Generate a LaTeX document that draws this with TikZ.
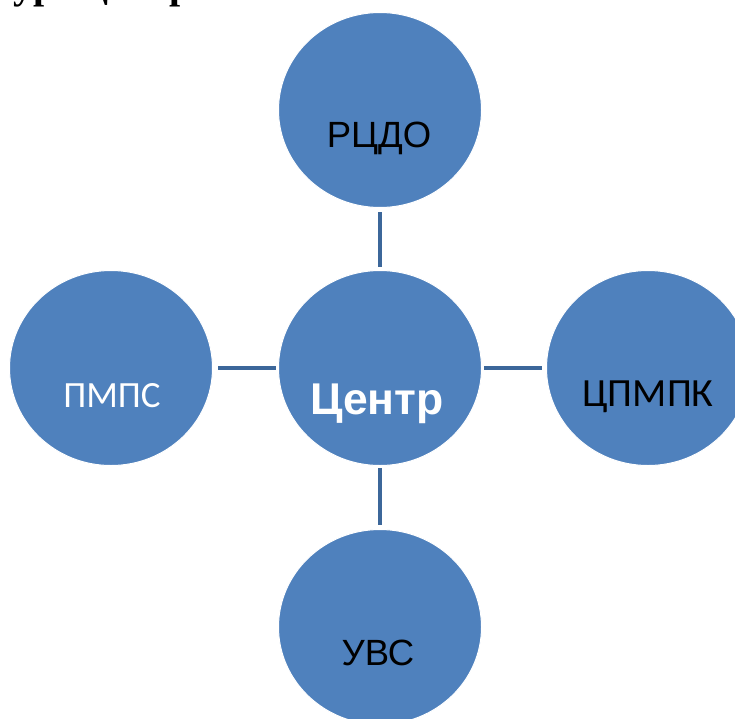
\documentclass[tikz,border=0pt]{standalone}
\usepackage{fontspec}
\newfontfamily\arialf{Liberation Sans}
\newfontfamily\calibrif{Carlito}
\newfontfamily\timesf{Liberation Serif}
\usetikzlibrary{shapes.geometric}
\definecolor{blobblue}{HTML}{4F81BD}
\definecolor{linkblue}{HTML}{3C679A}
\tikzset{
  blob/.style={ellipse, fill=blobblue, draw=white, line width=1pt, minimum width=203pt, minimum height=195pt, inner sep=0pt},
  link/.style={draw=linkblue, line width=4pt},
  lbl/.style={anchor=base, inner sep=0pt}
}
\begin{document}
\begin{tikzpicture}[x=1pt,y=1pt]
\useasboundingbox (0,0) rectangle (735,-718);
\clip (0,0) rectangle (735,-718);
\node[blob] (top) at (380,-110) {};
\node[blob] (mid) at (380,-368) {};
\node[blob] (left) at (111,-368) {};
\node[blob] (right) at (648,-368) {};
\node[blob] (bot) at (380,-627) {};
\draw[link, shorten <=4pt, shorten >=3pt] (top.south) -- (mid.north);
\draw[link, shorten <=5pt, shorten >=2pt] (left.east) -- (mid.west);
\draw[link, shorten <=2pt, shorten >=4pt] (mid.east) -- (right.west);
\draw[link, shorten <=2pt, shorten >=4pt] (mid.south) -- (bot.north);
\node[lbl] (ttop) at (379,-147) {\arialf\fontsize{36.5pt}{36.5pt}\selectfont РЦДО};
\node[lbl, text=white] (tmid) at (377,-414) {\arialf\bfseries\fontsize{44.5pt}{44.5pt}\selectfont Центр};
\node[lbl, text=white] (tleft) at (112,-407) {\calibrif\fontsize{37pt}{37pt}\selectfont ПМПС};
\node[lbl] (tright) at (648,-406) {\calibrif\fontsize{40pt}{40pt}\selectfont ЦПМПК};
\node[lbl] (tbot) at (378,-665) {\arialf\fontsize{36.5pt}{36.5pt}\selectfont УВС};
\node[anchor=base west, inner sep=0pt] (title) at (13,1.5) {\timesf\bfseries\fontsize{40pt}{40pt}\selectfont ура центра};
\end{tikzpicture}
\end{document}
